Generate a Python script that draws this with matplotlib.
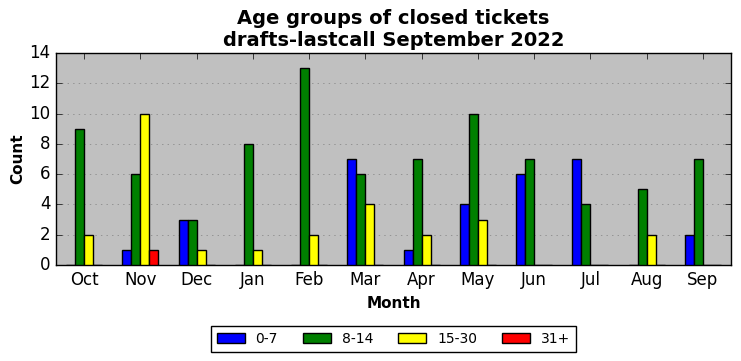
import matplotlib
matplotlib.use("Agg")
import matplotlib.pyplot as plt
import numpy as np

months = ['Oct', 'Nov', 'Dec', 'Jan', 'Feb', 'Mar', 'Apr', 'May', 'Jun', 'Jul', 'Aug', 'Sep']
groups = ['0-7', '8-14', '15-30', '31+']
g0_7 = [0, 1, 3, 0, 0, 7, 1, 4, 6, 7, 0, 2]
g8_14 = [9, 6, 3, 8, 13, 6, 7, 10, 7, 4, 5, 7]
g15_30 = [2, 10, 1, 1, 2, 4, 2, 3, 0, 0, 2, 0]
g31 = [0, 1, 0, 0, 0, 0, 0, 0, 0, 0, 0, 0]
colors = ['blue', 'green', 'yellow', 'red']

plt.style.use('classic')
fig = plt.figure(figsize=(7.41, 3.61), dpi=100)
fig.patch.set_facecolor('white')
ax = fig.add_axes([56/741, 1 - 265/361, 675/741, 212/361])
ax.set_facecolor('#c0c0c0')

x = np.arange(len(months))
w = 0.16
for i, (vals, c, lab) in enumerate(zip([g0_7, g8_14, g15_30, g31], colors, groups)):
    ax.bar(x + (i - 1.5) * w, vals, width=w, color=c, edgecolor='black',
           linewidth=1, label=lab, zorder=3)

ax.set_xlim(-0.5, len(months) - 0.5)
ax.set_ylim(0, 14)
ax.set_xticks(x)
ax.set_xticklabels(months, fontsize=12)
ax.set_yticks(range(0, 15, 2))
ax.tick_params(axis='y', labelsize=12)
ax.yaxis.grid(True, linestyle=':', color='gray', zorder=0)
ax.xaxis.grid(False)
ax.set_axisbelow(True)
ax.set_xlabel('Month', fontsize=11, fontweight='bold')
ax.set_ylabel('Count', fontsize=11, fontweight='bold', labelpad=3)
ax.set_title('Age groups of closed tickets\ndrafts-lastcall September 2022',
             fontsize=14, fontweight='bold')
leg = ax.legend(loc='upper center', bbox_to_anchor=(0.5, -0.27), ncol=4,
                fontsize=10, fancybox=False, frameon=True, columnspacing=1.8,
                borderaxespad=0.3)
leg.get_frame().set_edgecolor('black')

fig.savefig('out.png', dpi=100)
